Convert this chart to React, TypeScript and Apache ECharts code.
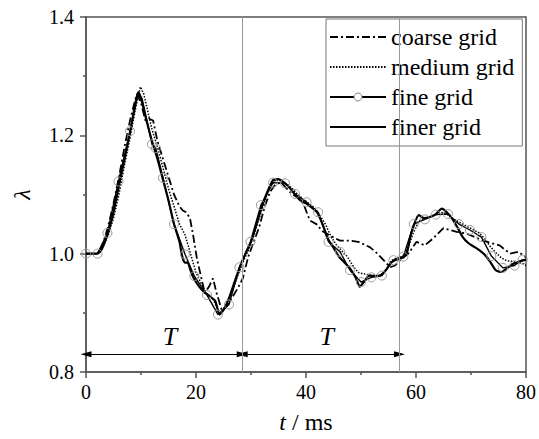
import React, { useEffect, useRef } from "react";
import * as echarts from "echarts";

const FONT = "Liberation Serif";

// axis settings (data units)
const xMin = 0, xMax = 80, xStep = 20;
const yMin = 0.8, yMax = 1.4, yStep = 0.2;

const seriesNames = ["coarse grid", "medium grid", "fine grid", "finer grid"];

// period markers
const periodBounds = [0, 28.4, 57];
const arrowLevel = 0.83;
const periodLabel = "T";

// coarse grid (dash-dot)
const coarseT = [0, 2, 2.5, 3, 4, 5, 6, 7, 8, 9, 9.3, 10, 10.8, 11.5, 12.2, 13, 14, 15, 16, 17, 17.6, 18.2, 18.9, 19.5, 20.2, 20.7, 21.6, 22.4, 23.1, 23.7, 24.7, 25.5, 26.5, 27.5, 28.5, 29.5, 30.5, 31.5, 32.5, 33.5, 34.5, 35.5, 36.5, 37.5, 38.5, 39.5, 40.7, 41.9, 43, 44.5, 46.2, 48, 49.5, 51.6, 53, 54.1, 55.3, 56.2, 57.1, 58.6, 60.1, 61.6, 63, 65, 67.4, 69.2, 72.2, 75.2, 77.1, 78.6, 80];
const coarseV = [1.0, 1.0, 1.005, 1.015, 1.045, 1.085, 1.13, 1.18, 1.225, 1.262, 1.27, 1.255, 1.225, 1.228, 1.225, 1.19, 1.16, 1.13, 1.1, 1.08, 1.073, 1.07, 1.06, 1.03, 0.99, 0.97, 0.933, 0.945, 0.958, 0.935, 0.904, 0.91, 0.925, 0.94, 0.958, 0.995, 1.02, 1.045, 1.08, 1.105, 1.118, 1.12, 1.11, 1.1, 1.095, 1.085, 1.056, 1.05, 1.038, 1.03, 1.022, 1.022, 1.02, 1.011, 1.0, 0.989, 0.977, 0.98, 0.989, 1.0, 1.02, 1.014, 1.025, 1.043, 1.037, 1.034, 1.022, 1.014, 1.0, 1.003, 0.994];

// medium grid (dotted)
const mediumT = [0, 2, 2.5, 3, 4, 5, 6, 7, 8, 9, 9.9, 10.5, 11, 12, 13, 14, 15, 16, 17, 18, 19, 20, 21, 22, 23, 24, 24.5, 25.5, 26.5, 27.5, 28.5, 29.5, 30.5, 31.5, 32.5, 33.5, 34.5, 35.5, 36.5, 37.5, 38.5, 39.5, 40.5, 41.5, 42.5, 43.5, 44.5, 45.5, 46.5, 47.5, 48.5, 49.5, 50.5, 51.5, 52.5, 53.5, 54.5, 55.5, 56.5, 57.5, 58.5, 59.5, 60.5, 61.5, 62.5, 63.5, 64.5, 65.5, 66.5, 67.5, 68.5, 69.5, 70.5, 71.5, 72.5, 73.5, 74.5, 75.5, 76.5, 77.5, 78.5, 79.5, 80];
const mediumV = [1.0, 1.0, 1.003, 1.01, 1.03, 1.06, 1.1, 1.15, 1.195, 1.245, 1.282, 1.27, 1.25, 1.21, 1.18, 1.145, 1.11, 1.08, 1.05, 1.032, 1.0, 0.968, 0.948, 0.932, 0.925, 0.905, 0.9, 0.912, 0.935, 0.96, 0.985, 1.005, 1.03, 1.06, 1.09, 1.113, 1.125, 1.123, 1.118, 1.11, 1.1, 1.092, 1.085, 1.078, 1.065, 1.05, 1.03, 1.015, 1.005, 0.995, 0.98, 0.968, 0.966, 0.964, 0.963, 0.963, 0.972, 0.988, 0.993, 0.995, 1.008, 1.035, 1.055, 1.06, 1.062, 1.065, 1.07, 1.068, 1.06, 1.055, 1.05, 1.045, 1.04, 1.035, 1.025, 1.012, 1.002, 0.993, 0.988, 0.987, 0.985, 0.983, 0.98];

// fine grid (line with circles)
const fineT = [0, 2.1, 3.9, 5.9, 8.0, 9.5, 10.2, 12.0, 12.7, 14.0, 16.0, 18.0, 19.7, 22.0, 24.0, 26.0, 27.9, 29.9, 31.8, 34.0, 36.2, 38.0, 40.1, 42.2, 44.1, 46.2, 48.0, 50.0, 51.9, 53.8, 55.9, 57.7, 59.6, 61.6, 63.6, 65.8, 67.8, 69.8, 71.9, 73.7, 75.8, 77.9, 79.4];
const fineV = [1.0, 1.0, 1.035, 1.122, 1.207, 1.272, 1.262, 1.185, 1.178, 1.128, 1.05, 0.999, 0.962, 0.93, 0.897, 0.914, 0.977, 1.02, 1.082, 1.12, 1.119, 1.101, 1.087, 1.07, 1.02, 1.003, 0.972, 0.952, 0.96, 0.963, 0.989, 0.995, 1.05, 1.058, 1.066, 1.067, 1.05, 1.04, 1.028, 0.996, 0.976, 0.98, 0.99];
const fineNoMarkerT = [9.5, 10.2];

// finer grid (thick solid)
const finerT = [0, 1, 2, 2.5, 3, 4, 5, 6, 7, 8, 9, 9.5, 10, 11, 12, 13, 14, 15, 16, 17, 17.5, 18, 18.5, 19, 19.5, 20.5, 21.5, 22.5, 23.5, 24.3, 25, 26, 27, 28, 29, 30, 31, 32, 33, 34, 35, 36, 37, 38, 39, 40, 41, 42, 43, 44, 45, 46, 47, 48, 49, 49.8, 50.5, 51.5, 52.5, 53.5, 54.5, 55.5, 56.5, 57.5, 58.3, 59, 59.5, 60.5, 61.5, 62.5, 63.5, 64.7, 65.6, 66.5, 67.5, 68.5, 69.5, 70.5, 71.5, 72.5, 73.5, 74.5, 75.5, 76.5, 77.5, 78.5, 80];
const finerV = [1.0, 1.0, 1.0, 1.003, 1.01, 1.035, 1.07, 1.115, 1.16, 1.205, 1.255, 1.273, 1.262, 1.225, 1.19, 1.16, 1.125, 1.09, 1.05, 1.02, 0.995, 0.985, 0.985, 0.972, 0.96, 0.945, 0.935, 0.928, 0.92, 0.897, 0.905, 0.925, 0.952, 0.978, 1.0, 1.02, 1.05, 1.08, 1.105, 1.124, 1.126, 1.12, 1.112, 1.1, 1.09, 1.085, 1.078, 1.07, 1.05, 1.025, 1.01, 0.995, 0.985, 0.975, 0.96, 0.944, 0.952, 0.963, 0.962, 0.963, 0.972, 0.985, 0.99, 0.993, 1.0, 1.03, 1.045, 1.065, 1.06, 1.062, 1.066, 1.076, 1.07, 1.06, 1.045, 1.028, 1.018, 1.012, 1.006, 0.998, 0.986, 0.972, 0.969, 0.975, 0.982, 0.986, 0.99];

const zip = (t: number[], v: number[]) => t.map((x, i) => [x, v[i]]);

export default function App() {
  const ref = useRef<HTMLDivElement>(null);
  useEffect(() => {
    const chart = echarts.init(ref.current!, null, { renderer: "svg" });
    const axisColor = "#555";
    const option: any = {
      animation: false,
      backgroundColor: "#fff",
      textStyle: { fontFamily: FONT, color: "#000" },
      grid: {
        left: 86,
        top: 17,
        width: 440,
        height: 355,
        show: true,
        borderColor: axisColor,
        borderWidth: 1.5,
        backgroundColor: "transparent",
      },
      legend: {
        orient: "vertical",
        left: 326,
        top: 19,
        padding: [6, 8, 7, 3],
        itemGap: 6,
        itemWidth: 56,
        itemHeight: 10,
        borderColor: "#777",
        borderWidth: 1,
        backgroundColor: "#fff",
        borderRadius: 0,
        data: [
          { name: seriesNames[0], itemStyle: { opacity: 0 } },
          { name: seriesNames[1], itemStyle: { opacity: 0 } },
          { name: seriesNames[2], itemStyle: { color: "#fff", borderColor: "#888", borderWidth: 1 } },
          { name: seriesNames[3], itemStyle: { opacity: 0 } },
        ],
        textStyle: { fontFamily: FONT, fontSize: 24, lineHeight: 24, color: "#000" },
      },
      xAxis: {
        type: "value",
        min: xMin,
        max: xMax,
        interval: xStep,
        name: "{i|t} / ms",
        nameLocation: "middle",
        nameGap: 38,
        nameTextStyle: {
          fontFamily: FONT,
          fontSize: 24,
          color: "#000",
          rich: { i: { fontFamily: FONT, fontSize: 24, fontStyle: "italic", color: "#000" } },
        },
        axisLine: { show: true, lineStyle: { color: axisColor, width: 1.5 } },
        axisTick: { show: true, length: 6, lineStyle: { color: axisColor, width: 1.5 } },
        minorTick: { show: true, splitNumber: 2, length: 3, lineStyle: { color: axisColor, width: 1.5 } },
        splitLine: { show: false },
        axisLabel: { fontFamily: FONT, fontSize: 20, color: "#000", margin: 10 },
      },
      yAxis: {
        type: "value",
        min: yMin,
        max: yMax,
        interval: yStep,
        name: "λ",
        nameLocation: "middle",
        nameGap: 52,
        nameRotate: 90,
        nameTextStyle: { fontFamily: FONT, fontSize: 24, fontStyle: "italic", color: "#000" },
        axisLine: { show: true, lineStyle: { color: axisColor, width: 1.5 } },
        axisTick: { show: true, length: 6, lineStyle: { color: axisColor, width: 1.5 } },
        minorTick: { show: true, splitNumber: 2, length: 3, lineStyle: { color: axisColor, width: 1.5 } },
        splitLine: { show: false },
        axisLabel: {
          fontFamily: FONT,
          fontSize: 20,
          color: "#000",
          margin: 12,
          formatter: (v: number) => v.toFixed(1),
        },
      },
      series: [
        {
          name: seriesNames[0],
          type: "line",
          data: zip(coarseT, coarseV),
          showSymbol: false,
          symbol: "none",
          lineStyle: { color: "#000", width: 1.8, type: [8, 3, 2, 3] },
          itemStyle: { color: "#000" },
          markLine: {
            silent: true,
            symbol: ["triangle", "triangle"],
            symbolSize: [6, 11],
            lineStyle: { color: "#000", width: 1, type: "solid" },
            label: {
              show: true,
              position: "insideMiddleTop",
              distance: 5,
              formatter: periodLabel,
              fontFamily: FONT,
              fontSize: 26,
              fontStyle: "italic",
              color: "#000",
              padding: [0, 0, 0, 12],
            },
            data: periodBounds.slice(0, -1).map((b, i) => [
              { coord: [b, arrowLevel] },
              { coord: [periodBounds[i + 1], arrowLevel] },
            ]),
          },
        },
        {
          name: seriesNames[1],
          type: "line",
          data: zip(mediumT, mediumV),
          showSymbol: false,
          symbol: "none",
          lineStyle: { color: "#000", width: 1.5, type: [1.5, 1.5] },
          itemStyle: { color: "#000" },
          markLine: {
            silent: true,
            symbol: ["none", "none"],
            lineStyle: { color: "#999", width: 1, type: "solid" },
            label: { show: false },
            data: periodBounds.slice(1).map((b) => ({ xAxis: b })),
          },
        },
        {
          name: seriesNames[2],
          type: "line",
          data: fineT.map((t, i) =>
            fineNoMarkerT.includes(t)
              ? { value: [t, fineV[i]], symbol: "none" }
              : { value: [t, fineV[i]] }
          ),
          symbol: "circle",
          symbolSize: 9,
          showSymbol: true,
          lineStyle: { color: "#000", width: 1.4 },
          itemStyle: { color: "rgba(255,255,255,0)", borderColor: "#999", borderWidth: 1 },
        },
        {
          name: seriesNames[3],
          type: "line",
          data: zip(finerT, finerV),
          showSymbol: false,
          symbol: "none",
          smooth: 0.2,
          lineStyle: { color: "#000", width: 2.2 },
          itemStyle: { color: "#000" },
        },
      ],
    };
    chart.setOption(option);
    return () => chart.dispose();
  }, []);
  return (
    <div
      ref={ref}
      style={{ position: "absolute", left: 0, top: 0, width: 539, height: 439 }}
    />
  );
}
